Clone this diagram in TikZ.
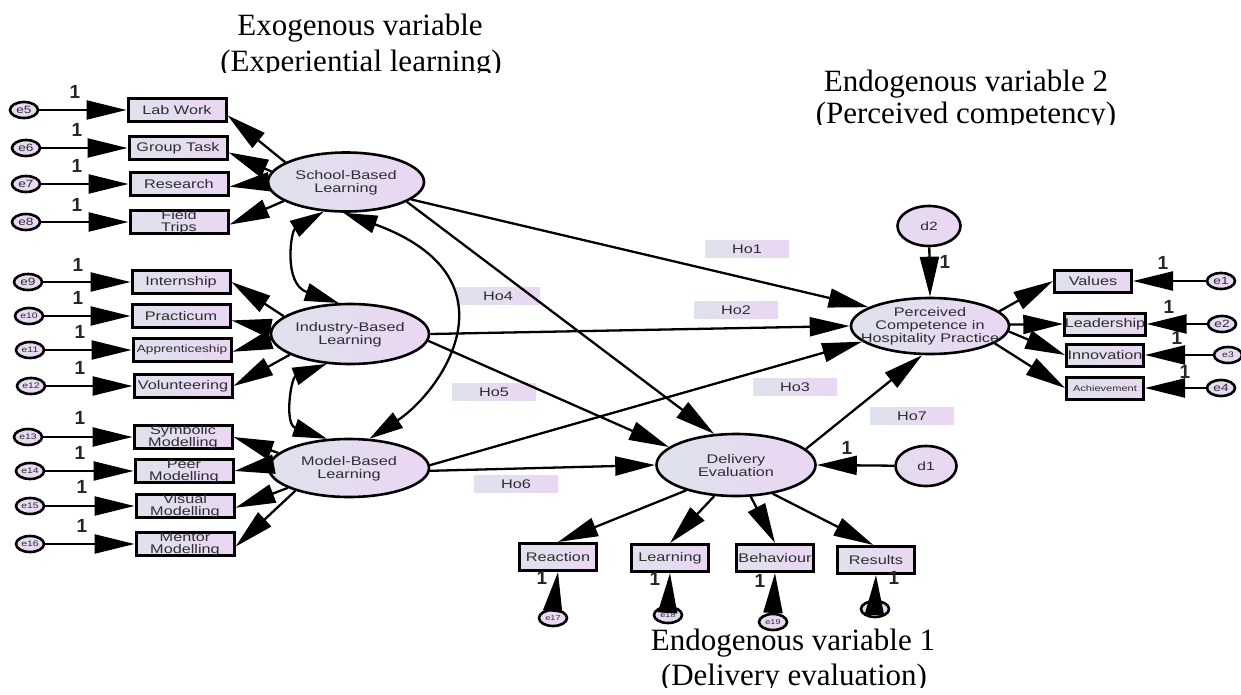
\documentclass[tikz,border=0pt]{standalone}
\usepackage{fontspec}
\setmainfont{Liberation Serif}
\newfontfamily\amos[FakeStretch=1.3]{Liberation Sans}
\newfontfamily\onefont{Liberation Sans}
\usetikzlibrary{shapes.geometric,arrows.meta}
\definecolor{gL}{RGB}{222,226,236}
\definecolor{gR}{RGB}{235,214,243}
\definecolor{ink}{RGB}{45,45,50}

\begin{document}
\begin{tikzpicture}[x=1pt,y=-1pt,
  title/.style={font=\fontsize{31}{36}\selectfont, anchor=base, inner sep=0},
  obs/.style={draw=black, line width=3pt, rectangle, left color=gL, right color=gR,
    inner sep=0, text=ink, align=center, font=\amos\fontsize{12.5}{12}\selectfont},
  obsL/.style={obs, minimum width=98pt, minimum height=23pt},
  obsR/.style={obs, minimum width=77pt, minimum height=22pt},
  obsB/.style={obs, minimum width=77pt, minimum height=27pt},
  lat/.style={draw=black, line width=2.6pt, ellipse, left color=gL, right color=gR,
    inner sep=0, minimum width=157pt, minimum height=58pt},
  lattext/.style={text=ink, align=center, inner sep=0, font=\amos\fontsize{12.5}{13}\selectfont},
  err/.style={draw=black, line width=2.6pt, ellipse, left color=gL!50!gR, right color=gR,
    inner sep=0, minimum width=28pt, minimum height=16pt, text=ink,
    font=\amos\fontsize{10.5}{10}\selectfont},
  errs/.style={err, font=\amos\fontsize{8}{8}\selectfont},
  dist/.style={err, minimum width=61pt, minimum height=40pt, font=\amos\fontsize{12}{12}\selectfont},
  hyp/.style={rectangle, left color=gL, right color=gR, inner sep=0, minimum width=84pt,
    minimum height=17pt, text=ink, font=\amos\fontsize{12.5}{12}\selectfont},
  one/.style={inner sep=0, text=black!85, font=\onefont\bfseries\fontsize{19}{19}\selectfont},
  arr/.style={line width=2.3pt, -{Triangle[length=40pt,width=19pt]}},
  cov/.style={line width=2.3pt, {Triangle[length=34pt,width=18pt]}-{Triangle[length=34pt,width=18pt]}},
]
\useasboundingbox (0,0) rectangle (1241,695);
\fill[white] (0,0) rectangle (1241,695);

% ---- headings ----
\begin{scope}
  \clip (150,0) rectangle (580,72.5);
  \node[title] (hdA1) at (360,35.7) {Exogenous variable};
  \node[title] (hdA2) at (361,71.5) {(Experiential learning)};
\end{scope}
\begin{scope}
  \clip (760,40) rectangle (1180,124.5);
  \node[title] (hdB1) at (966,91.7) {Endogenous variable 2};
  \node[title] (hdB2) at (966,123.3) {(Perceived competency)};
\end{scope}
\begin{scope}
  \clip (600,600) rectangle (1000,687);
  \node[title] (hdC1) at (793,650) {Endogenous variable 1};
  \node[title] (hdC2) at (794,685) {(Delivery evaluation)};
\end{scope}

% ---- experiential learning indicators ----
\node[obsL] (lab) at (177,110) {Lab Work};
\node[obsL] (grp) at (178,148) {Group Task};
\node[obsL] (res) at (179,184) {Research};
\node[obsL] (fld) at (179,222) {Field\\Trips};
\node[obsL] (int) at (181,282) {Internship};
\node[obsL] (pra) at (181,316) {Practicum};
\node[obsL,font=\amos\fontsize{10.5}{10.5}\selectfont] (app) at (182,350) {Apprenticeship};
\node[obsL] (vol) at (183,386) {Volunteering};
\node[obsL] (sym) at (183,437) {Symbolic\\Modelling};
\node[obsL] (peer) at (184,471) {Peer\\Modelling};
\node[obsL] (vis) at (185,506) {Visual\\Modelling};
\node[obsL] (men) at (185,544) {Mentor\\Modelling};

\node[err] (e5) at (24,110) {e5};
\node[err] (e6) at (26,148) {e6};
\node[err] (e7) at (26,184) {e7};
\node[err] (e8) at (26,222) {e8};
\node[err] (e9) at (28,282) {e9};
\node[errs] (e10) at (29,316) {e10};
\node[errs] (e11) at (30,350) {e11};
\node[errs] (e12) at (31,386) {e12};
\node[errs] (e13) at (28,437) {e13};
\node[errs] (e14) at (30,471) {e14};
\node[errs] (e15) at (30,506) {e15};
\node[errs] (e16) at (30,544) {e16};

% ---- latent variables ----
\node[lat, minimum width=156pt, minimum height=59pt] (sch) at (346,182) {};
\node[lattext] (scht) at (346,183) {School-Based\\Learning};
\node[lat, minimum width=158pt, minimum height=60pt] (ind) at (350,334) {};
\node[lattext] (indt) at (350,335) {Industry-Based\\Learning};
\node[lat, minimum width=160pt, minimum height=58pt] (mod) at (349,468) {};
\node[lattext] (modt) at (349,469) {Model-Based\\Learning};
\node[lat, minimum width=159pt, minimum height=62pt] (de) at (736,465) {};
\node[lattext] (det) at (736,466) {Delivery\\Evaluation};
\node[lat, minimum width=158pt, minimum height=56pt] (pc) at (930,326) {};
\node[lattext] (pct) at (930,326) {Perceived\\Competence in\\Hospitality Practice};

\node[dist, minimum width=63pt] (d2) at (929,226) {d2};
\node[dist] (d1) at (926,466) {d1};

% ---- perceived competency indicators ----
\node[obsR] (val) at (1093,281) {Values};
\node[obsR] (lead) at (1105,324) {Leadership};
\node[obsR] (inn) at (1105,355) {Innovation};
\node[obsR,font=\amos\fontsize{8.5}{8.5}\selectfont] (ach) at (1105,388) {Achievement};
\node[err] (e1) at (1221,281) {e1};
\node[err] (e2) at (1222,324) {e2};
\node[errs] (e3) at (1228,355) {e3};
\node[err] (e4) at (1221,388) {e4};

% ---- delivery evaluation indicators ----
\node[obsB] (rea) at (558,557) {Reaction};
\node[obsB] (lrn) at (670,558) {Learning};
\node[obsB] (beh) at (775,558) {Behaviour};
\node[obsB] (rsl) at (876,560) {Results};
\node[errs,font=\amos\fontsize{7}{7}\selectfont] (e17) at (553,618) {e17};
\node[errs,font=\amos\fontsize{7}{7}\selectfont] (e18) at (668,615) {e18};
\node[errs,font=\amos\fontsize{7}{7}\selectfont] (e19) at (773,622) {e19};
\node[errs,font=\amos\fontsize{7}{7}\selectfont] (e20) at (875,609) {e20};

% ---- hypothesis tags ----
\node[hyp] (h1) at (747,249) {Ho1};
\node[hyp] (h2) at (736,310) {Ho2};
\node[hyp] (h3) at (795,387) {Ho3};
\node[hyp] (h4) at (498,296) {Ho4};
\node[hyp] (h5) at (494,392) {Ho5};
\node[hyp] (h6) at (516,484) {Ho6};
\node[hyp] (h7) at (912,416) {Ho7};

% ---- measurement errors into indicators ----
\foreach \e/\b in {e5/lab,e6/grp,e7/res,e8/fld,e9/int,e10/pra,e11/app,e12/vol,
                   e13/sym,e14/peer,e15/vis,e16/men}
  \draw[arr] (\e) -- (\b.west);
\foreach \e/\b in {e1/val,e2/lead,e3/inn,e4/ach}
  \draw[arr] (\e) -- (\b.east);
\foreach \e/\b in {e17/rea,e18/lrn,e19/beh,e20/rsl}
  \draw[arr] (\e.north) -- (\b.south);

% ---- loadings ----
\draw[arr] (sch.162) -- (lab.-6);
\draw[arr] (sch.172) -- (grp.-5);
\draw[arr] (sch.180) -- (res.-3);
\draw[arr] (sch.197) -- (fld.-3);
\draw[arr] (ind.165) -- (int.east);
\draw[arr] (ind.176) -- (pra.-5);
\draw[arr] (ind.184) -- (app.-2);
\draw[arr] (ind.199) -- (vol.east);
\draw[arr] (mod.168) -- (sym.east);
\draw[arr] (mod.178) -- (peer.east);
\draw[arr] (mod.198) -- (vis.-2);
\draw[arr] (mod.203) -- (men.-3);
\draw[arr] (pc.12) -- (val.west);
\draw[arr] (pc.1) -- (lead.west);
\draw[arr] (pc.356) -- (inn.west);
\draw[arr] (pc.345) -- (ach.west);
\draw[arr] (de.207) -- (rea.north);
\draw[arr] (de.235) -- (lrn.north);
\draw[arr] (de.295) -- (beh.north);
\draw[arr] (de.322) -- (rsl.100);

% ---- covariances among the exogenous factors ----
\draw[cov] (sch.233) .. controls (291,231) and (283,284) .. (ind.110);
\draw[cov] (ind.232) .. controls (291,378) and (284,424) .. (mod.127);
\draw[cov] (sch.265) .. controls (522,278) and (441,392) .. (mod.55);

% ---- structural paths ----
\draw[arr] (sch.345) -- (pc.163);
\draw[arr] (sch.342) -- (de.125);
\draw[arr] (ind.0) -- (pc.180);
\draw[arr] (ind.355) -- (de.165);
\draw[arr] (mod.2) -- (pc.193);
\draw[arr] (mod.358) -- (de.180);
\draw[arr] (de.13) -- (pc.255);
\draw[arr] (d2) -- (pc.north);
\draw[arr] (d1) -- (de.east);

% ---- fixed weights ----
\node[one] (w5) at (75,92) {1};
\node[one] (w6) at (77,130) {1};
\node[one] (w7) at (77,166) {1};
\node[one] (w8) at (77,205) {1};
\node[one] (w9) at (78,265) {1};
\node[one] (w10) at (78,298) {1};
\node[one] (w11) at (80,332) {1};
\node[one] (w12) at (80,368) {1};
\node[one] (w13) at (80,418) {1};
\node[one] (w14) at (80,453) {1};
\node[one] (w15) at (82,487) {1};
\node[one] (w16) at (82,526) {1};
\node[one] (w1) at (1163,263) {1};
\node[one] (w2) at (1169,307) {1};
\node[one] (w3) at (1177,338) {1};
\node[one] (w4) at (1185,372) {1};
\node[one] (wd2) at (945,262) {1};
\node[one] (wd1) at (847,448) {1};
\node[one] (w17) at (542,578) {1};
\node[one] (w18) at (655,579) {1};
\node[one] (w19) at (760,581) {1};
\node[one] (w20) at (894,578) {1};
\end{tikzpicture}
\end{document}
